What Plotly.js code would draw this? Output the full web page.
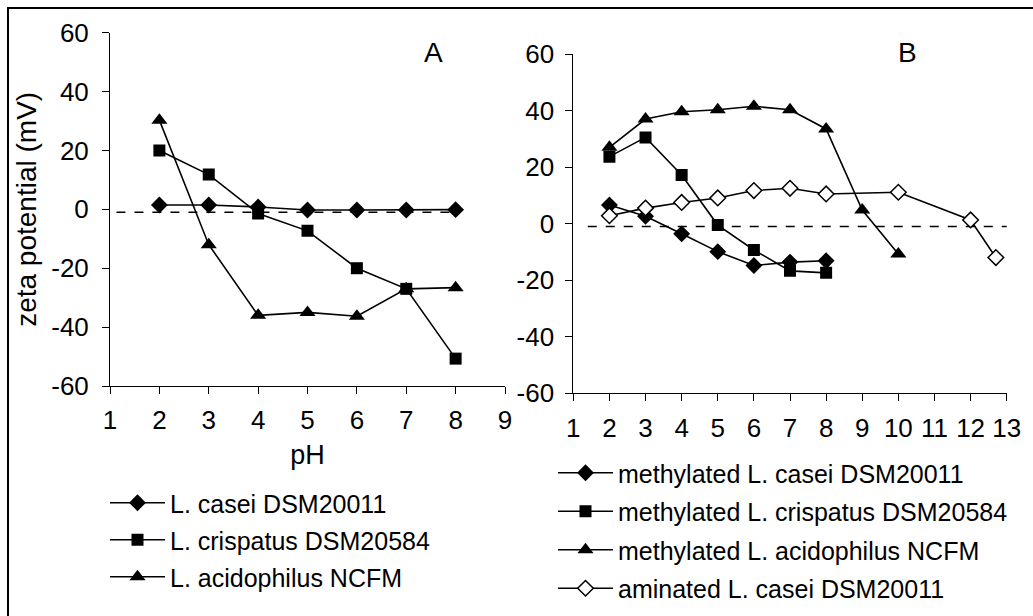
<!DOCTYPE html>
<html>
<head>
<meta charset="utf-8">
<script src="https://cdn.plot.ly/plotly-3.0.1.min.js"></script>
<style>
  html, body { margin: 0; padding: 0; background: #fff; }
  #wrap { position: relative; width: 1033px; height: 616px; overflow: hidden; }
  #chart { position: absolute; left: 0; top: 0; width: 1033px; height: 616px; }
  #frame { position: absolute; left: 7px; top: 7px; width: 1100px; height: 700px;
           border-left: 2px solid #000; border-top: 2px solid #000; pointer-events: none; }
</style>
</head>
<body>
<div id="wrap">
  <div id="chart"></div>
  <div id="frame"></div>
</div>
<script>
// Panel A data
const pH_A = [2, 3, 4, 5, 6, 7, 8];
const caseiA = [1.5, 1.5, 0.8, -0.2, -0.2, -0.2, -0.1];
const crispatusA = [20, 11.8, -1.4, -7.3, -20, -27, -50.7];
const acidophilusA = [30.3, -12, -36, -35, -36.3, -27, -26.6];

// Panel B data
const pH_B_meth = [2, 3, 4, 5, 6, 7, 8];
const methCasei = [6.6, 2.6, -3.6, -9.9, -14.8, -13.6, -13.1];
const methCrispatus = [23.7, 30.5, 17.2, -0.5, -9.3, -16.7, -17.4];
const pH_B_acid = [2, 3, 4, 5, 6, 7, 8, 9, 10];
const methAcidophilus = [27, 37, 39.6, 40.3, 41.5, 40.3, 33.5, 4.8, -10.7];
const pH_B_amin = [2, 3, 4, 5, 6, 7, 8, 10, 12, 12.7];
const aminCasei = [2.8, 5.5, 7.5, 9.1, 11.7, 12.5, 10.5, 11.1, 1.3, -12];

// reference (dashed) lines
const refA_x = [1.13, 8.1];
const refB_x = [1.4, 13.3];
const refY = [-1, -1];

// tick values and labels
const yTickVals = [-60, -40, -20, 0, 20, 40, 60];
const yTickText = ['-60', '-40', '-20', '0', '20', '40', '60'];
const xTickA = [1, 2, 3, 4, 5, 6, 7, 8, 9];
const xTickB = [1, 2, 3, 4, 5, 6, 7, 8, 9, 10, 11, 12, 13];

const namesA = ['L. casei DSM20011', 'L. crispatus DSM20584', 'L. acidophilus NCFM'];
const namesB = ['methylated L. casei DSM20011', 'methylated L. crispatus DSM20584',
                'methylated L. acidophilus NCFM', 'aminated L. casei DSM20011'];

const FONT = 'Liberation Sans, Arial, sans-serif';
const line = {color: '#000', width: 1.6};
function mk(sym, size, open) {
  return {symbol: sym, size: size, color: open ? '#fff' : '#000',
          line: {color: '#000', width: open ? 1.5 : 0}};
}

const traces = [
  {x: refA_x, y: refY, xaxis: 'x', yaxis: 'y', mode: 'lines', showlegend: false,
   line: {color: '#000', width: 1.6, dash: 'dash'}, hoverinfo: 'skip'},
  {x: refB_x, y: refY, xaxis: 'x2', yaxis: 'y2', mode: 'lines', showlegend: false, cliponaxis: false,
   line: {color: '#000', width: 1.6, dash: 'dash'}, hoverinfo: 'skip'},

  {x: pH_A, y: caseiA, name: namesA[0], xaxis: 'x', yaxis: 'y', mode: 'lines+markers',
   line: line, marker: mk('diamond', 13), legend: 'legend', legendgroup: 'a1'},
  {x: pH_A, y: crispatusA, name: namesA[1], xaxis: 'x', yaxis: 'y', mode: 'lines+markers',
   line: line, marker: mk('square', 12), legend: 'legend', legendgroup: 'a2'},
  {x: pH_A, y: acidophilusA, name: namesA[2], xaxis: 'x', yaxis: 'y', mode: 'lines+markers',
   line: line, marker: mk('triangle-up', 14), legend: 'legend', legendgroup: 'a3'},

  {x: pH_B_meth, y: methCasei, name: namesB[0], xaxis: 'x2', yaxis: 'y2', mode: 'lines+markers',
   line: line, marker: mk('diamond', 13), legend: 'legend2', legendgroup: 'b1'},
  {x: pH_B_meth, y: methCrispatus, name: namesB[1], xaxis: 'x2', yaxis: 'y2', mode: 'lines+markers',
   line: line, marker: mk('square', 12), legend: 'legend2', legendgroup: 'b2'},
  {x: pH_B_acid, y: methAcidophilus, name: namesB[2], xaxis: 'x2', yaxis: 'y2', mode: 'lines+markers',
   line: line, marker: mk('triangle-up', 14), legend: 'legend2', legendgroup: 'b3'},
  {x: pH_B_amin, y: aminCasei, name: namesB[3], xaxis: 'x2', yaxis: 'y2', mode: 'lines+markers',
   line: line, marker: mk('diamond', 12, true), legend: 'legend2', legendgroup: 'b4', cliponaxis: false}
];

const W = 1033, H = 616;
const axCommon = {
  showgrid: false, zeroline: false, showline: true, linecolor: '#000', linewidth: 1,
  ticks: 'outside', ticklen: 7, tickwidth: 1, tickcolor: '#000',
  tickfont: {family: FONT, size: 26, color: '#000'}
};

const layout = {
  width: W, height: H,
  margin: {l: 0, r: 0, t: 0, b: 0},
  paper_bgcolor: 'rgba(0,0,0,0)', plot_bgcolor: 'rgba(0,0,0,0)',
  font: {family: FONT, color: '#000'},
  xaxis: Object.assign({}, axCommon, {
    domain: [110 / W, 505 / W], range: [1, 9], tickvals: xTickA,
    ticklabelstandoff: 4,
    anchor: 'y', title: {text: 'pH', font: {family: FONT, size: 27}, standoff: 10}
  }),
  yaxis: Object.assign({}, axCommon, {
    domain: [(H - 386) / H, (H - 32.7) / H], range: [-60, 60],
    tickvals: yTickVals, ticktext: yTickText, ticklabelstandoff: 8,
    anchor: 'x', title: {text: 'zeta potential (mV)', font: {family: FONT, size: 28}, standoff: 6}
  }),
  xaxis2: Object.assign({}, axCommon, {
    domain: [573.3 / W, 1006.7 / W], range: [1, 13], tickvals: xTickB,
    ticklabelstandoff: 4,
    anchor: 'y2'
  }),
  yaxis2: Object.assign({}, axCommon, {
    domain: [(H - 393.3) / H, (H - 54) / H], range: [-60, 60],
    tickvals: yTickVals, ticktext: yTickText, ticklabelstandoff: 6,
    anchor: 'x2'
  }),
  legend: {
    x: 105 / W, y: 1 - 480 / H, xanchor: 'left', yanchor: 'top',
    font: {family: FONT, size: 25, color: '#000'}, bgcolor: 'rgba(0,0,0,0)',
    tracegroupgap: 1.5, itemwidth: 55
  },
  legend2: {
    x: 553 / W, y: 1 - 450 / H, xanchor: 'left', yanchor: 'top',
    font: {family: FONT, size: 25, color: '#000'}, bgcolor: 'rgba(0,0,0,0)',
    tracegroupgap: 3, itemwidth: 55
  },
  annotations: [
    {text: 'A', x: 433 / W, y: 1 - 52.5 / H, xref: 'paper', yref: 'paper', showarrow: false,
     xanchor: 'center', yanchor: 'middle', font: {family: FONT, size: 28, color: '#000'}},
    {text: 'B', x: 907 / W, y: 1 - 52.5 / H, xref: 'paper', yref: 'paper', showarrow: false,
     xanchor: 'center', yanchor: 'middle', font: {family: FONT, size: 28, color: '#000'}}
  ],
  showlegend: true
};

Plotly.newPlot('chart', traces, layout, {staticPlot: true, displayModeBar: false});
</script>
</body>
</html>
